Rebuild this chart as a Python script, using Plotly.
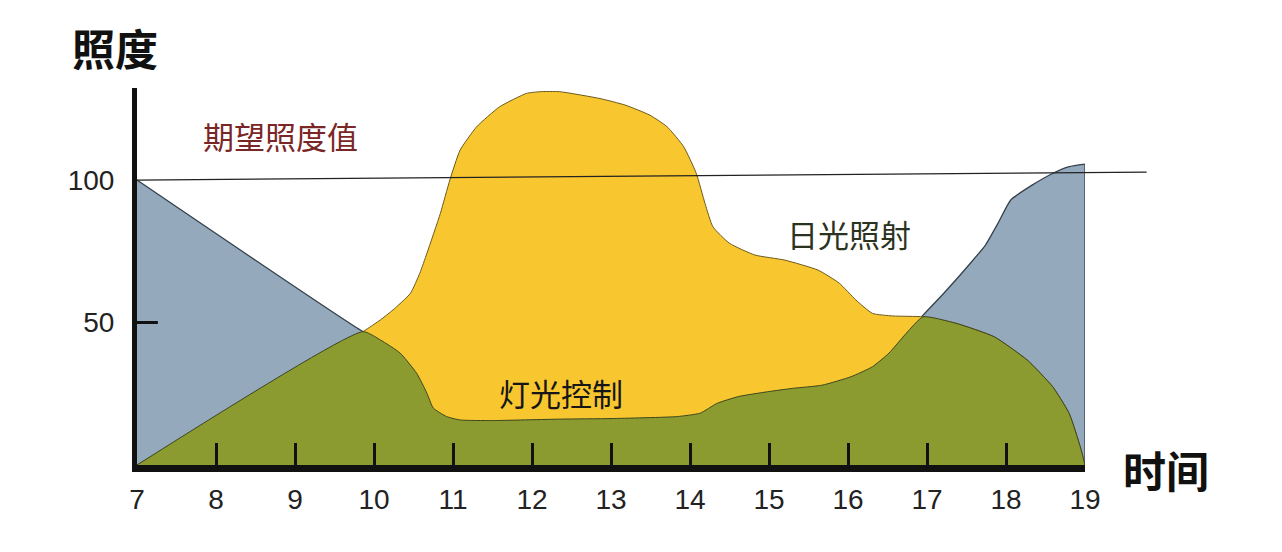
import plotly.graph_objects as go

# hours (x) and illuminance (y)
light_hours = [7, 9.86, 10.08, 10.33, 10.54, 10.67, 10.75, 10.92, 11.09, 11.5, 12.35, 13.0,
               13.84, 14.13, 14.34, 14.61, 14.98, 15.3, 15.67, 16.04, 16.31, 16.52, 16.74,
               16.95, 17.21, 17.53, 17.74, 17.9, 18.06, 18.33, 18.59, 18.8, 19.0]
light_level = [100, 46.8, 43.9, 39.3, 32.2, 25.2, 20, 17, 15.8, 15.6, 16.1, 16.3,
               17, 18.2, 21.6, 24, 25.7, 26.9, 28, 31, 34.5, 39.3, 46.3,
               52.6, 60.2, 70.2, 77.2, 84.9, 93, 98.2, 102.3, 104.7, 105.6]

day_hours = [7, 9.86, 10.08, 10.24, 10.46, 10.58, 10.67, 10.84, 10.96, 11.09, 11.3, 11.59,
             11.93, 12.1, 12.35, 12.86, 13.18, 13.49, 13.71, 13.92, 14.08, 14.19, 14.29,
             14.5, 14.82, 15.2, 15.62, 15.89, 16.1, 16.31, 16.57, 16.95, 17.37, 17.85,
             18.27, 18.59, 18.8, 18.94, 19.0]
day_level = [0, 46.8, 50.9, 54.4, 60.2, 67.3, 74.3, 88.3, 100, 110.5, 118.7, 125.7,
             130.4, 131, 131, 128.6, 126.3, 122.8, 118.7, 111.7, 102.3, 91.8, 83.6,
             77.8, 73.7, 71.9, 68.4, 63.8, 57.9, 53.2, 52.3, 52, 49.7, 45,
             36.8, 27.5, 18.1, 6.4, 0]

# overlap of the two (green part)
overlap_hours = [7, 9.86, 10.08, 10.33, 10.54, 10.67, 10.75, 10.92, 11.09, 11.5, 12.35, 13.0,
                 13.84, 14.13, 14.34, 14.61, 14.98, 15.3, 15.67, 16.04, 16.31, 16.52, 16.74,
                 16.95, 17.37, 17.85, 18.27, 18.59, 18.8, 18.94, 19.0]
overlap_level = [0, 46.8, 43.9, 39.3, 32.2, 25.2, 20, 17, 15.8, 15.6, 16.1, 16.3,
                 17, 18.2, 21.6, 24, 25.7, 26.9, 28, 31, 34.5, 39.3, 46.3,
                 52, 49.7, 45, 36.8, 27.5, 18.1, 6.4, 0]

target_level = [100, 102.8]   # desired illuminance line, left end / right end
x_ticks = list(range(7, 20))
y_ticks = [50, 100]
Y_MAX = 132.3

fig = go.Figure()

fig.add_trace(go.Scatter(x=light_hours, y=light_level, fill='tozeroy', mode='lines',
                         line=dict(shape='spline', smoothing=0.5, color='#34414c', width=1.3),
                         fillcolor='#95a9bc'))
fig.add_trace(go.Scatter(x=day_hours, y=day_level, fill='tozeroy', mode='lines',
                         line=dict(shape='spline', smoothing=0.5, color='#6b5a1c', width=1),
                         fillcolor='#f8c72f'))
fig.add_trace(go.Scatter(x=overlap_hours, y=overlap_level, fill='tozeroy', mode='lines',
                         line=dict(shape='spline', smoothing=0.5, color='#3d4520', width=1),
                         fillcolor='#8b9b2f'))

# right edge of the blue area
fig.add_shape(type='line', x0=19, x1=19, y0=0, y1=light_level[-1],
              line=dict(color='#34414c', width=1.3))

# only the 50 mark has a tick, 100 is covered by the target line
fig.add_shape(type='line', xref='paper', x0=0, x1=0.022, y0=y_ticks[0], y1=y_ticks[0],
              line=dict(color='#111111', width=3))

# desired illuminance line (runs past the end of the x axis)
fig.add_shape(type='line', xref='paper', yref='paper',
              x0=0, x1=1.065, y0=target_level[0] / Y_MAX, y1=target_level[1] / Y_MAX,
              line=dict(color='#222222', width=1.2), layer='above')

cjk = 'Noto Sans CJK SC'
fig.update_layout(
    width=1282, height=552,
    margin=dict(l=129, r=205, t=80, b=95),
    paper_bgcolor='white', plot_bgcolor='white',
    showlegend=False,
    annotations=[
        dict(text='<b>照度</b>', xref='paper', yref='paper', x=-0.071, y=1.11,
             xanchor='left', yanchor='middle', showarrow=False,
             font=dict(family=cjk, size=43, color='#111111')),
        dict(text='<b>时间</b>', xref='paper', yref='paper', x=1.038, y=-0.01,
             xanchor='left', yanchor='middle', showarrow=False,
             font=dict(family=cjk, size=43, color='#111111')),
        dict(text='期望照度值', x=8.82, y=115.8, showarrow=False,
             font=dict(family=cjk, size=31, color='#7a2626')),
        dict(text='日光照射', x=16.01, y=81.4, showarrow=False,
             font=dict(family=cjk, size=31, color='#2b3320')),
        dict(text='灯光控制', x=12.37, y=25.6, showarrow=False,
             font=dict(family=cjk, size=31, color='#161616')),
    ],
)

fig.update_xaxes(range=[7, 19], tickvals=x_ticks, ticks='inside', ticklen=22, tickwidth=3,
                 tickcolor='#111111', showline=True, linecolor='#111111', linewidth=7,
                 showgrid=False, zeroline=False, ticklabelstandoff=3,
                 tickfont=dict(family='Liberation Sans, Arial', size=28, color='#222222'))
fig.update_yaxes(range=[0, Y_MAX], tickvals=y_ticks, ticks='', showline=True,
                 linecolor='#111111', linewidth=5,
                 showgrid=False, zeroline=False, ticklabelstandoff=12,
                 tickfont=dict(family='Liberation Sans, Arial', size=28, color='#222222'))

fig.write_html("out.html")
